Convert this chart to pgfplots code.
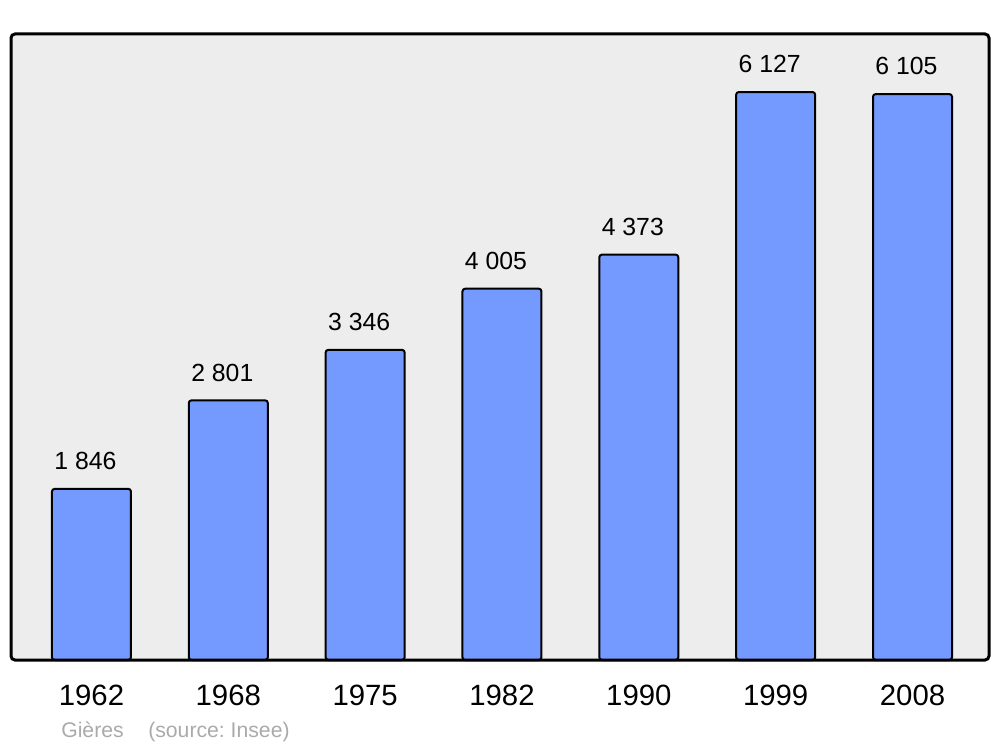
\documentclass[border=0pt]{standalone}
\usepackage{pgfplots}
\pgfplotsset{compat=1.18}
\usepackage{fontspec}
\setmainfont{Liberation Sans}
\frenchspacing
\definecolor{bg}{HTML}{EDEDED}
\definecolor{barblue}{HTML}{7499FF}
\definecolor{foot}{HTML}{AAAAAA}
\begin{document}
\begin{tikzpicture}
\useasboundingbox (0,0) rectangle (750pt,560.25pt);
\begin{axis}[
  at={(8.25pt,65.25pt)}, anchor=south west,
  scale only axis, width=733.5pt, height=469.5pt,
  xmin=-0.588, xmax=6.559, ymin=0, ymax=6753,
  axis background/.style={fill=bg},
  axis line style={draw=none},
  ytick=\empty,
  xtick=data,
  xticklabels={1962,1968,1975,1982,1990,1999,2008},
  major tick length=0pt,
  xticklabel style={font=\fontsize{22}{25}\selectfont, anchor=north, inner sep=0pt, yshift=-18.75pt},
  ybar, bar width=59.25pt,
  point meta=explicit symbolic,
  nodes near coords={\pgfplotspointmeta},
  nodes near coords style={font=\fontsize{18.6}{21}\selectfont, anchor=south, inner sep=0pt, yshift=13.5pt, xshift=-4.5pt, text=black},
  clip=false,
]
\addplot[fill=barblue, draw=black, line width=1.5pt, rounded corners=2pt]
  coordinates {(0,1846) [1~846] (1,2801) [2~801] (2,3346) [3~346] (3,4005) [4~005] (4,4373) [4~373] (5,6127) [6~127] (6,6105) [6~105]};
\end{axis}
\draw[line width=2.25pt, rounded corners=3pt] (8.25pt,65.25pt) rectangle (741.75pt,534.75pt);
\node[anchor=base west, inner sep=0pt, text=foot, font=\fontsize{15.9}{18}\selectfont] at (45.75pt,7.5pt) {Gières};
\node[anchor=base west, inner sep=0pt, text=foot, font=\fontsize{15.9}{18}\selectfont] at (111pt,7.5pt) {(source: Insee)};
\end{tikzpicture}
\end{document}
